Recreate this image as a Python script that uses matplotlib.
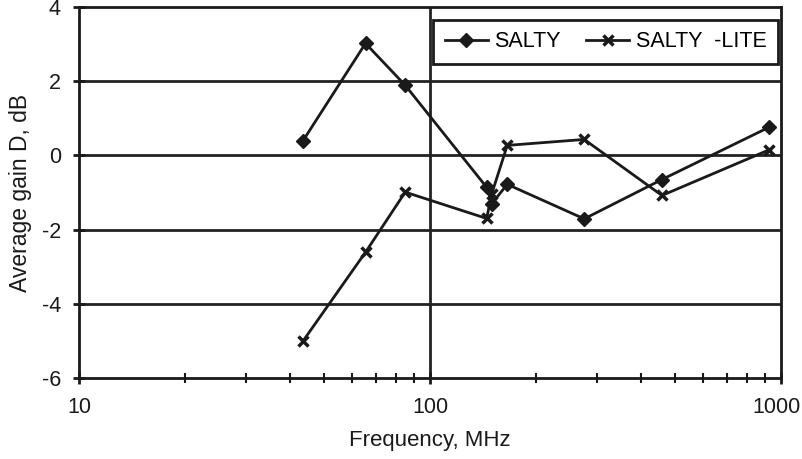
import numpy as np
import matplotlib.pyplot as plt
import matplotlib.transforms as mtransforms
from matplotlib.ticker import FixedLocator, NullFormatter

plt.rcParams['font.family'] = ['Liberation Sans', 'DejaVu Sans']
plt.rcParams['axes.unicode_minus'] = False

freq = [43.5, 65.5, 85, 145, 150, 166, 275, 458, 925]
salty = [0.40, 3.02, 1.89, -0.86, -1.30, -0.78, -1.71, -0.65, 0.76]
salty_lite = [-5.0, -2.61, -0.99, -1.70, -1.03, 0.27, 0.43, -1.08, 0.15]

fig = plt.figure(figsize=(8.02, 4.59), dpi=100)
ax = fig.add_axes([79 / 802, 1 - 378 / 459, (781 - 79) / 802, (378 - 7) / 459])

ax.set_xscale('log')
ax.set_xlim(10, 1000)
ax.set_ylim(-6, 4)

# horizontal grid every 2 dB, vertical line at the decade
for y in [-4, -2, 0, 2]:
    ax.axhline(y, color='#222222', lw=2, zorder=1)
ax.axvline(100, color='#222222', lw=2, zorder=1)

ax.plot(freq, salty, color='#1a1a1a', lw=2, marker='D', ms=7.5,
        mfc='#1a1a1a', mec='#1a1a1a', label='SALTY', zorder=3)
ax.plot(freq, salty_lite, color='#1a1a1a', lw=2, marker='x', ms=6.5,
        mew=2.5, label='SALTY  -LITE', zorder=3)

ax.set_yticks([-6, -4, -2, 0, 2, 4])
ax.set_xticks([10, 100, 1000])
ax.set_xticklabels(['10', '100', '1000'])
ax.xaxis.set_minor_locator(FixedLocator([20, 30, 40, 50, 60, 70, 80, 90,
                                         200, 300, 400, 500, 600, 700, 800, 900]))
ax.xaxis.set_minor_formatter(NullFormatter())

ax.tick_params(axis='both', which='major', direction='inout', length=8,
               width=2, labelsize=15.5, colors='#1a1a1a')
ax.tick_params(axis='x', which='minor', direction='inout', length=7,
               width=1.5, colors='#1a1a1a')
ax.tick_params(axis='x', which='major', pad=10)
ax.tick_params(axis='y', which='major', pad=9)

# keep the last frequency label inside the figure
last = ax.get_xticklabels()[-1]
last.set_transform(last.get_transform() +
                   mtransforms.ScaledTranslation(-5 / 100, 0, fig.dpi_scale_trans))

for s in ax.spines.values():
    s.set_linewidth(2)
    s.set_color('#1a1a1a')

ax.set_xlabel('Frequency, MHz', fontsize=16, color='#1a1a1a', labelpad=8)
ax.set_ylabel('Average gain D, dB', fontsize=16.5, color='#1a1a1a', labelpad=7)

leg = ax.legend(loc='upper left', bbox_to_anchor=(0.504, 0.966, 0.492, 0.0),
                mode='expand', ncol=2, fontsize=15.5, frameon=True,
                fancybox=False, handlelength=2.0, handletextpad=0.3,
                columnspacing=1.0, borderpad=0.55, borderaxespad=0,
                framealpha=1)
leg.get_frame().set_edgecolor('#1a1a1a')
leg.get_frame().set_linewidth(2)

fig.savefig('out.png', dpi=100)
